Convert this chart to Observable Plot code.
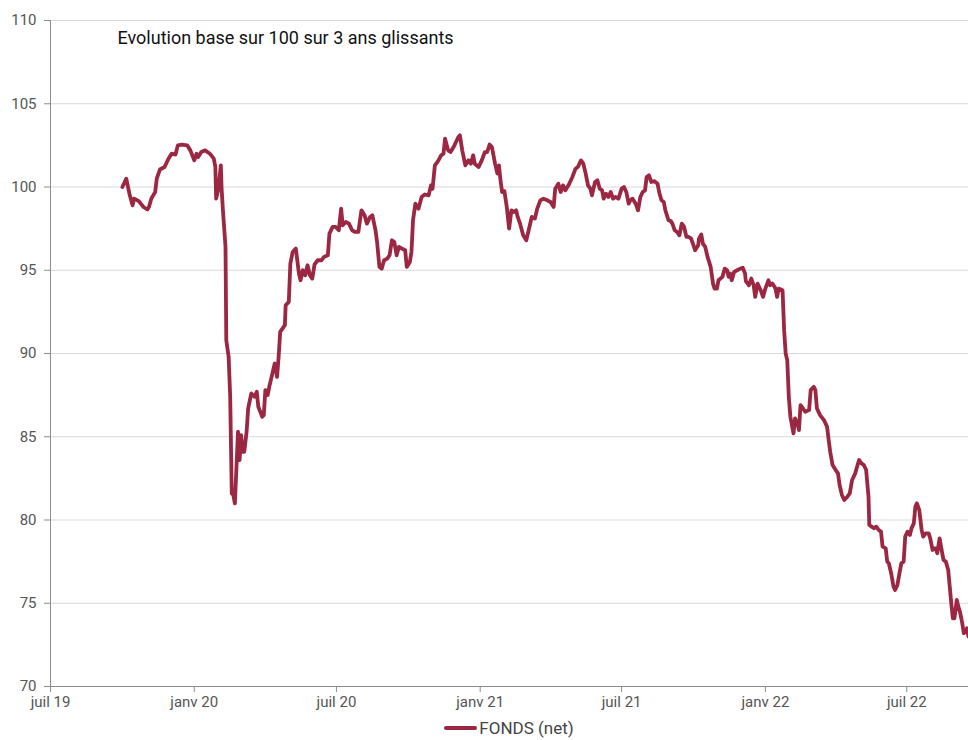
<!DOCTYPE html>
<html>
<head>
<meta charset="utf-8">
<script src="https://cdn.jsdelivr.net/npm/d3@7"></script>
<script src="https://cdn.jsdelivr.net/npm/@observablehq/plot@0.6"></script>
<style>
  html, body { margin: 0; padding: 0; background: #fff; }
  #chart { width: 968px; }
  .legend { display: flex; justify-content: center; align-items: center; padding-left: 50px; padding-top: 1px; height: 22px; line-height: 20px;
    font-family: Roboto, "Noto Sans", sans-serif; font-size: 17px; color: #444; }
  .legend .sw { display: inline-block; width: 33px; height: 4px; background: #9b2743; margin-right: 2px; border-radius: 2px; }
</style>
</head>
<body>
<div id="chart"></div>
<script>
const title = "Evolution base sur 100 sur 3 ans glissants";
const seriesName = "FONDS (net)";
const yTicks = [70, 75, 80, 85, 90, 95, 100, 105, 110];
const xTickDates = ["2019-07-01", "2020-01-01", "2020-07-01", "2021-01-01", "2021-07-01", "2022-01-01", "2022-07-01"];
const xTickLabels = ["juil 19", "janv 20", "juil 20", "janv 21", "juil 21", "janv 22", "juil 22"];

const dates = [
"2019-10-01","2019-10-06","2019-10-10","2019-10-14","2019-10-16","2019-10-22","2019-10-28","2019-11-02","2019-11-04","2019-11-07",
"2019-11-12","2019-11-14","2019-11-18","2019-11-24","2019-11-29","2019-12-03","2019-12-08","2019-12-11","2019-12-16","2019-12-23",
"2019-12-27","2020-01-01","2020-01-04","2020-01-06","2020-01-10","2020-01-15","2020-01-21","2020-01-26","2020-01-28","2020-01-29",
"2020-02-01","2020-02-04","2020-02-05","2020-02-07","2020-02-10","2020-02-11","2020-02-14","2020-02-16","2020-02-18","2020-02-20",
"2020-02-22","2020-02-26","2020-02-28","2020-03-01","2020-03-03","2020-03-05","2020-03-08","2020-03-10","2020-03-14","2020-03-18",
"2020-03-21","2020-03-23","2020-03-28","2020-03-30","2020-04-01","2020-04-04","2020-04-06","2020-04-09","2020-04-13","2020-04-16",
"2020-04-18","2020-04-20","2020-04-26","2020-04-27","2020-05-01","2020-05-03","2020-05-06","2020-05-10","2020-05-14","2020-05-16",
"2020-05-19","2020-05-22","2020-05-25","2020-05-28","2020-05-31","2020-06-03","2020-06-07","2020-06-12","2020-06-15","2020-06-20",
"2020-06-22","2020-06-26","2020-06-30","2020-07-04","2020-07-07","2020-07-09","2020-07-13","2020-07-17","2020-07-21","2020-07-25",
"2020-07-29","2020-08-02","2020-08-06","2020-08-09","2020-08-13","2020-08-16","2020-08-20","2020-08-22","2020-08-25","2020-08-28",
"2020-08-31","2020-09-04","2020-09-07","2020-09-10","2020-09-13","2020-09-16","2020-09-19","2020-09-23","2020-09-27","2020-09-29",
"2020-10-03","2020-10-05","2020-10-07","2020-10-10","2020-10-14","2020-10-18","2020-10-22","2020-10-27","2020-10-30","2020-11-01",
"2020-11-04","2020-11-08","2020-11-12","2020-11-15","2020-11-17","2020-11-21","2020-11-24","2020-11-28","2020-12-01","2020-12-04",
"2020-12-06","2020-12-09","2020-12-13","2020-12-17","2020-12-20","2020-12-23","2020-12-25","2020-12-30","2021-01-03","2021-01-07",
"2021-01-10","2021-01-13","2021-01-16","2021-01-20","2021-01-23","2021-01-25","2021-01-27","2021-01-29","2021-02-01","2021-02-04",
"2021-02-07","2021-02-10","2021-02-13","2021-02-16","2021-02-18","2021-02-21","2021-02-25","2021-03-01","2021-03-05","2021-03-08",
"2021-03-12","2021-03-15","2021-03-19","2021-03-23","2021-03-28","2021-04-01","2021-04-05","2021-04-07","2021-04-11","2021-04-14",
"2021-04-17","2021-04-20","2021-04-24","2021-04-29","2021-05-03","2021-05-06","2021-05-10","2021-05-13","2021-05-16","2021-05-19",
"2021-05-22","2021-05-24","2021-05-28","2021-05-31","2021-06-03","2021-06-06","2021-06-08","2021-06-11","2021-06-14","2021-06-17",
"2021-06-20","2021-06-23","2021-06-27","2021-07-01","2021-07-04","2021-07-07","2021-07-10","2021-07-12","2021-07-15","2021-07-19",
"2021-07-22","2021-07-25","2021-07-28","2021-07-31","2021-08-02","2021-08-05","2021-08-08","2021-08-12","2021-08-16","2021-08-18",
"2021-08-21","2021-08-24","2021-08-26","2021-08-30","2021-09-02","2021-09-04","2021-09-07","2021-09-10","2021-09-13","2021-09-16",
"2021-09-19","2021-09-22","2021-09-25","2021-09-28","2021-10-01","2021-10-03","2021-10-07","2021-10-08","2021-10-11","2021-10-13",
"2021-10-16","2021-10-19","2021-10-23","2021-10-26","2021-10-28","2021-10-31","2021-11-02","2021-11-07","2021-11-10","2021-11-13",
"2021-11-15","2021-11-17","2021-11-19","2021-11-22","2021-11-26","2021-11-30","2021-12-03","2021-12-06","2021-12-07","2021-12-11",
"2021-12-14","2021-12-17","2021-12-19","2021-12-22","2021-12-26","2021-12-29","2022-01-01","2022-01-05","2022-01-07","2022-01-10",
"2022-01-14","2022-01-16","2022-01-18","2022-01-23","2022-01-25","2022-01-27","2022-01-29","2022-01-31","2022-02-02","2022-02-06",
"2022-02-08","2022-02-11","2022-02-13","2022-02-15","2022-02-18","2022-02-21","2022-02-26","2022-02-28","2022-03-04","2022-03-06",
"2022-03-08","2022-03-12","2022-03-17","2022-03-21","2022-03-23","2022-03-25","2022-03-28","2022-04-01","2022-04-04","2022-04-06",
"2022-04-09","2022-04-12","2022-04-16","2022-04-19","2022-04-22","2022-04-26","2022-04-29","2022-05-01","2022-05-04","2022-05-07",
"2022-05-10","2022-05-13","2022-05-14","2022-05-17","2022-05-20","2022-05-23","2022-05-26","2022-05-29","2022-05-31","2022-06-04",
"2022-06-06","2022-06-08","2022-06-11","2022-06-14","2022-06-16","2022-06-19","2022-06-22","2022-06-24","2022-06-27","2022-06-29",
"2022-07-02","2022-07-05","2022-07-07","2022-07-10","2022-07-12","2022-07-14","2022-07-17","2022-07-20","2022-07-22","2022-07-25",
"2022-07-29","2022-07-31","2022-08-03","2022-08-05","2022-08-07","2022-08-09","2022-08-12","2022-08-15","2022-08-17","2022-08-20",
"2022-08-23","2022-08-25","2022-08-27","2022-08-29","2022-08-31","2022-09-03","2022-09-05","2022-09-07","2022-09-10","2022-09-12",
"2022-09-14","2022-09-16","2022-09-18"
];
const values = [
100.0,100.5,99.6,98.9,99.3,99.15,98.8,98.65,98.8,99.3,
99.7,100.5,101.05,101.2,101.7,102.0,101.95,102.5,102.55,102.5,
102.2,101.6,102.0,101.8,102.1,102.2,102.0,101.7,101.2,99.3,
99.9,101.3,99.9,98.4,96.4,90.8,89.8,87.4,81.6,81.5,
81.0,85.3,83.6,85.1,84.1,84.1,85.3,86.7,87.6,87.4,
87.7,86.8,86.2,86.3,87.8,87.5,88.0,88.6,89.4,88.6,
89.8,91.3,91.7,92.9,93.1,95.4,96.1,96.3,94.8,94.4,
95.0,94.7,95.3,94.7,94.5,95.35,95.6,95.6,95.8,95.9,
97.2,97.6,97.6,97.4,98.7,97.7,97.9,97.8,97.4,97.3,
97.3,98.6,98.3,97.8,98.2,98.3,97.4,96.7,95.2,95.1,
95.6,95.7,95.9,96.8,96.7,95.9,96.4,96.3,96.2,95.2,
95.5,96.1,98.0,99.0,98.7,99.4,99.55,99.5,100.1,99.9,
101.3,101.55,101.9,102.0,102.9,102.2,102.1,102.4,102.7,103.0,
103.1,102.2,101.3,101.6,101.4,101.9,101.4,101.2,101.6,102.1,
102.1,102.55,102.4,101.4,100.8,101.3,100.4,99.7,99.75,98.8,
97.5,98.6,98.5,98.6,98.2,97.8,97.1,96.8,97.6,98.2,
98.1,98.7,99.2,99.3,99.2,99.1,98.8,99.9,100.2,99.7,
100.1,99.8,100.1,100.6,101.1,101.2,101.6,101.4,100.8,100.1,
99.9,99.5,100.3,100.4,99.9,99.8,99.3,99.6,99.4,99.7,
99.3,99.4,99.3,99.9,100.0,99.7,99.0,99.2,99.3,99.0,
98.6,99.4,99.7,99.8,100.6,100.7,100.3,100.35,100.2,99.7,
99.2,99.1,98.6,98.0,97.95,97.8,97.4,97.3,97.1,97.8,
97.6,97.0,97.0,96.9,96.5,96.2,96.5,96.9,97.15,96.6,
96.4,95.8,95.2,94.2,93.9,93.9,94.4,94.6,95.1,95.0,
94.6,94.8,94.4,94.9,95.0,95.1,95.15,94.8,94.35,94.1,
94.5,94.1,93.4,94.2,93.8,93.4,93.9,94.4,94.1,94.2,
93.9,93.4,93.9,93.8,91.4,90.0,89.6,87.4,86.2,85.2,
86.1,85.8,85.4,86.9,86.7,86.5,86.6,87.8,88.0,87.8,
86.7,86.3,86.0,85.6,84.8,84.1,83.3,83.0,82.8,82.1,
81.5,81.2,81.4,81.6,82.4,82.8,83.3,83.6,83.4,83.3,
83.0,81.4,79.7,79.6,79.5,79.6,79.4,79.3,78.4,78.3,
77.5,77.4,76.8,76.0,75.8,76.1,76.9,77.4,77.5,79.0,
79.3,79.1,79.5,79.8,80.8,81.0,80.6,79.4,79.0,79.2,
79.2,78.9,78.2,78.3,78.3,78.0,78.9,78.1,77.6,77.5,
77.0,76.0,74.97,74.1,74.1,75.2,74.8,74.5,73.8,73.2,
73.3,73.5,73.0
];

const data = dates.map((d, i) => ({date: new Date(d), value: values[i]}));
const tickDates = xTickDates.map(d => new Date(d));
const lineColor = "#9b2743";
const font = "Roboto, 'Noto Sans', sans-serif";

const chart = Plot.plot({
  width: 968,
  height: 716,
  marginLeft: 50,
  marginRight: 0,
  marginTop: 20,
  marginBottom: 30,
  style: {fontFamily: font, background: "#fff"},
  x: {type: "utc", domain: [new Date("2019-07-01"), new Date("2022-09-18")]},
  y: {domain: [70, 110]},
  marks: [
    Plot.gridY(yTicks, {stroke: "#d9d9d9", strokeOpacity: 1, strokeWidth: 1}),
    Plot.ruleY([70], {stroke: "#8c8c8c", strokeWidth: 1}),
    Plot.ruleX([new Date("2019-07-01")], {stroke: "#8c8c8c", strokeWidth: 1}),
    Plot.axisY({ticks: yTicks, tickSize: 6, tickPadding: 8, stroke: "#8c8c8c", fill: "#555", fontSize: 15, label: null}),
    Plot.axisX({ticks: tickDates, tickSize: 6, tickPadding: 4, stroke: "#8c8c8c", fill: "#555", fontSize: 15, label: null,
      tickFormat: d => xTickLabels[tickDates.findIndex(t => +t === +d)]}),
    Plot.line(data, {x: "date", y: "value", stroke: lineColor, strokeWidth: 3.8, strokeLinejoin: "round", strokeLinecap: "round"}),
    Plot.text([title], {frameAnchor: "top-left", dx: 67, dy: 11, lineAnchor: "top", textAnchor: "start", fontSize: 18, fill: "#111", fontFamily: font})
  ]
});
document.getElementById("chart").appendChild(chart);
const legend = document.createElement("div");
legend.className = "legend";
legend.innerHTML = `<span class="sw"></span><span>${seriesName}</span>`;
document.getElementById("chart").appendChild(legend);
</script>
</body>
</html>
